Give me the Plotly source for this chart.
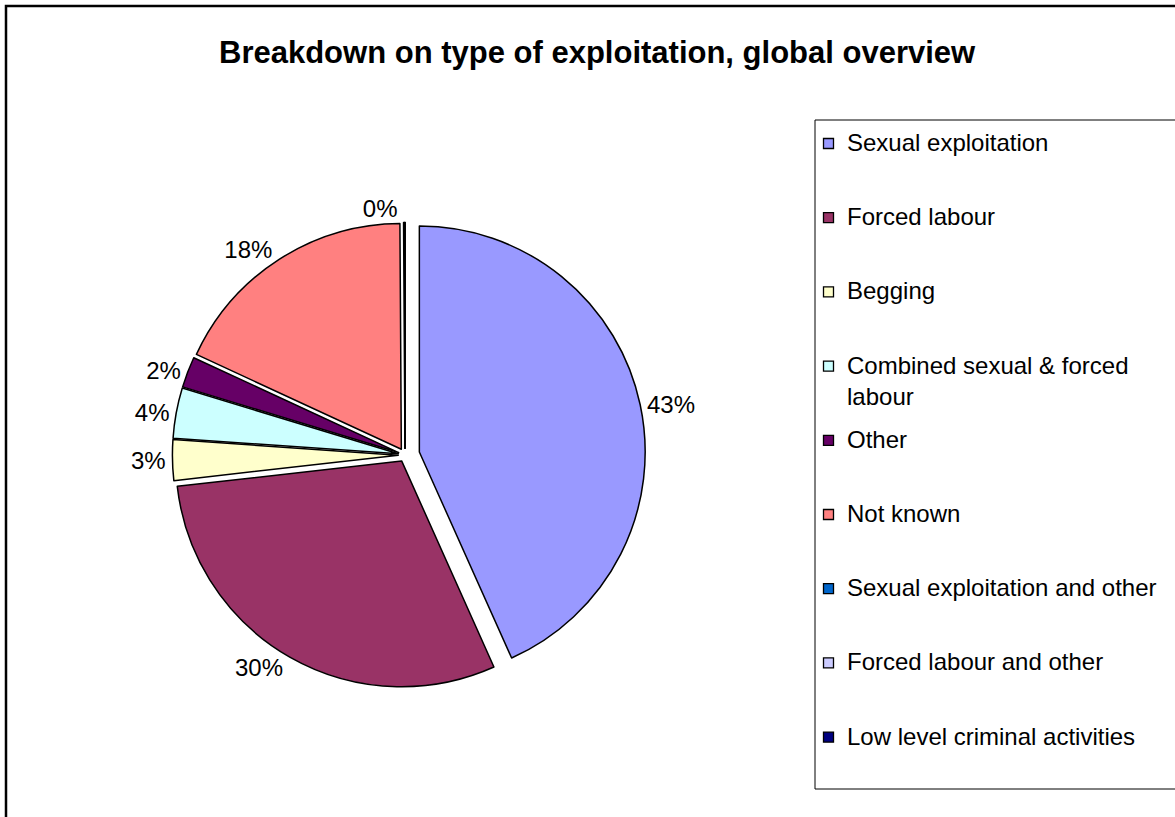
import plotly.graph_objects as go

W, H = 1175, 817

categories = [
    "Sexual exploitation",
    "Forced labour",
    "Begging",
    "Combined sexual & forced labour",
    "Other",
    "Not known",
    "Sexual exploitation and other",
    "Forced labour and other",
    "Low level criminal activities",
]
legend_labels = [
    "Sexual exploitation",
    "Forced labour",
    "Begging",
    "Combined sexual & forced<br>labour",
    "Other",
    "Not known",
    "Sexual exploitation and other",
    "Forced labour and other",
    "Low level criminal activities",
]
values = [43.3, 29.9, 2.9, 3.6, 2.2, 18.0, 0.1, 0.0, 0.0]
colors = ["#9999FF", "#993366", "#FFFFCC", "#CCFFFF", "#660066",
          "#FF8080", "#0066CC", "#CCCCFF", "#000080"]
pulls = [0.065, 0.03, 0.03, 0.03, 0.03, 0.03, 0.03, 0.03, 0.03]

FONT = "Arial, Liberation Sans, sans-serif"

def px(x):
    return x / W

def py(y):
    return 1 - y / H

texts = ["%{percent:.0%}" if v > 0 else "" for v in values]

cx, cy, half = 405, 455, 240.5

fig = go.Figure()
fig.add_trace(go.Pie(
    labels=categories,
    values=values,
    sort=False,
    direction="clockwise",
    rotation=0,
    pull=pulls,
    marker=dict(colors=colors, line=dict(color="black", width=1.5)),
    textposition="outside",
    texttemplate=texts,
    textfont=dict(family=FONT, size=24, color="black"),
    domain=dict(x=[px(cx - half), px(cx + half)], y=[py(cy + half), py(cy - half)]),
    showlegend=False,
    hoverinfo="label+percent",
))

shapes = [
    # chart border
    dict(type="rect", xref="paper", yref="paper",
         x0=px(6), y0=py(6), x1=px(1200), y1=py(850),
         line=dict(color="black", width=2.5), fillcolor="rgba(0,0,0,0)"),
    # legend box
    dict(type="rect", xref="paper", yref="paper",
         x0=px(815), y0=py(120), x1=px(1200), y1=py(789),
         line=dict(color="black", width=1), fillcolor="rgba(0,0,0,0)"),
]
annotations = [
    dict(text="<b>Breakdown on type of exploitation, global overview</b>",
         xref="paper", yref="paper", x=px(597), y=py(53),
         xanchor="center", yanchor="middle", showarrow=False,
         font=dict(family=FONT, size=31, color="black")),
]

y0, step = 143.5, 74.2
for i, (lab, col) in enumerate(zip(legend_labels, colors)):
    yc = y0 + i * step
    shapes.append(dict(type="rect", xref="paper", yref="paper",
                       x0=px(823.5), x1=px(833.5), y0=py(yc - 5), y1=py(yc + 5),
                       fillcolor=col, line=dict(color="black", width=1.3)))
    annotations.append(dict(text=lab, xref="paper", yref="paper",
                            x=px(845), y=py(yc - 16.6), xanchor="left", yanchor="top",
                            align="left", showarrow=False,
                            font=dict(family=FONT, size=24, color="black")))

fig.update_layout(
    width=W, height=H,
    margin=dict(l=0, r=0, t=0, b=0),
    paper_bgcolor="white",
    plot_bgcolor="white",
    shapes=shapes,
    annotations=annotations,
    showlegend=False,
)

fig.write_html(
    "out.html",
    config={"displayModeBar": False},
    post_script="document.body.style.margin='0';document.body.style.overflow='hidden';",
)
